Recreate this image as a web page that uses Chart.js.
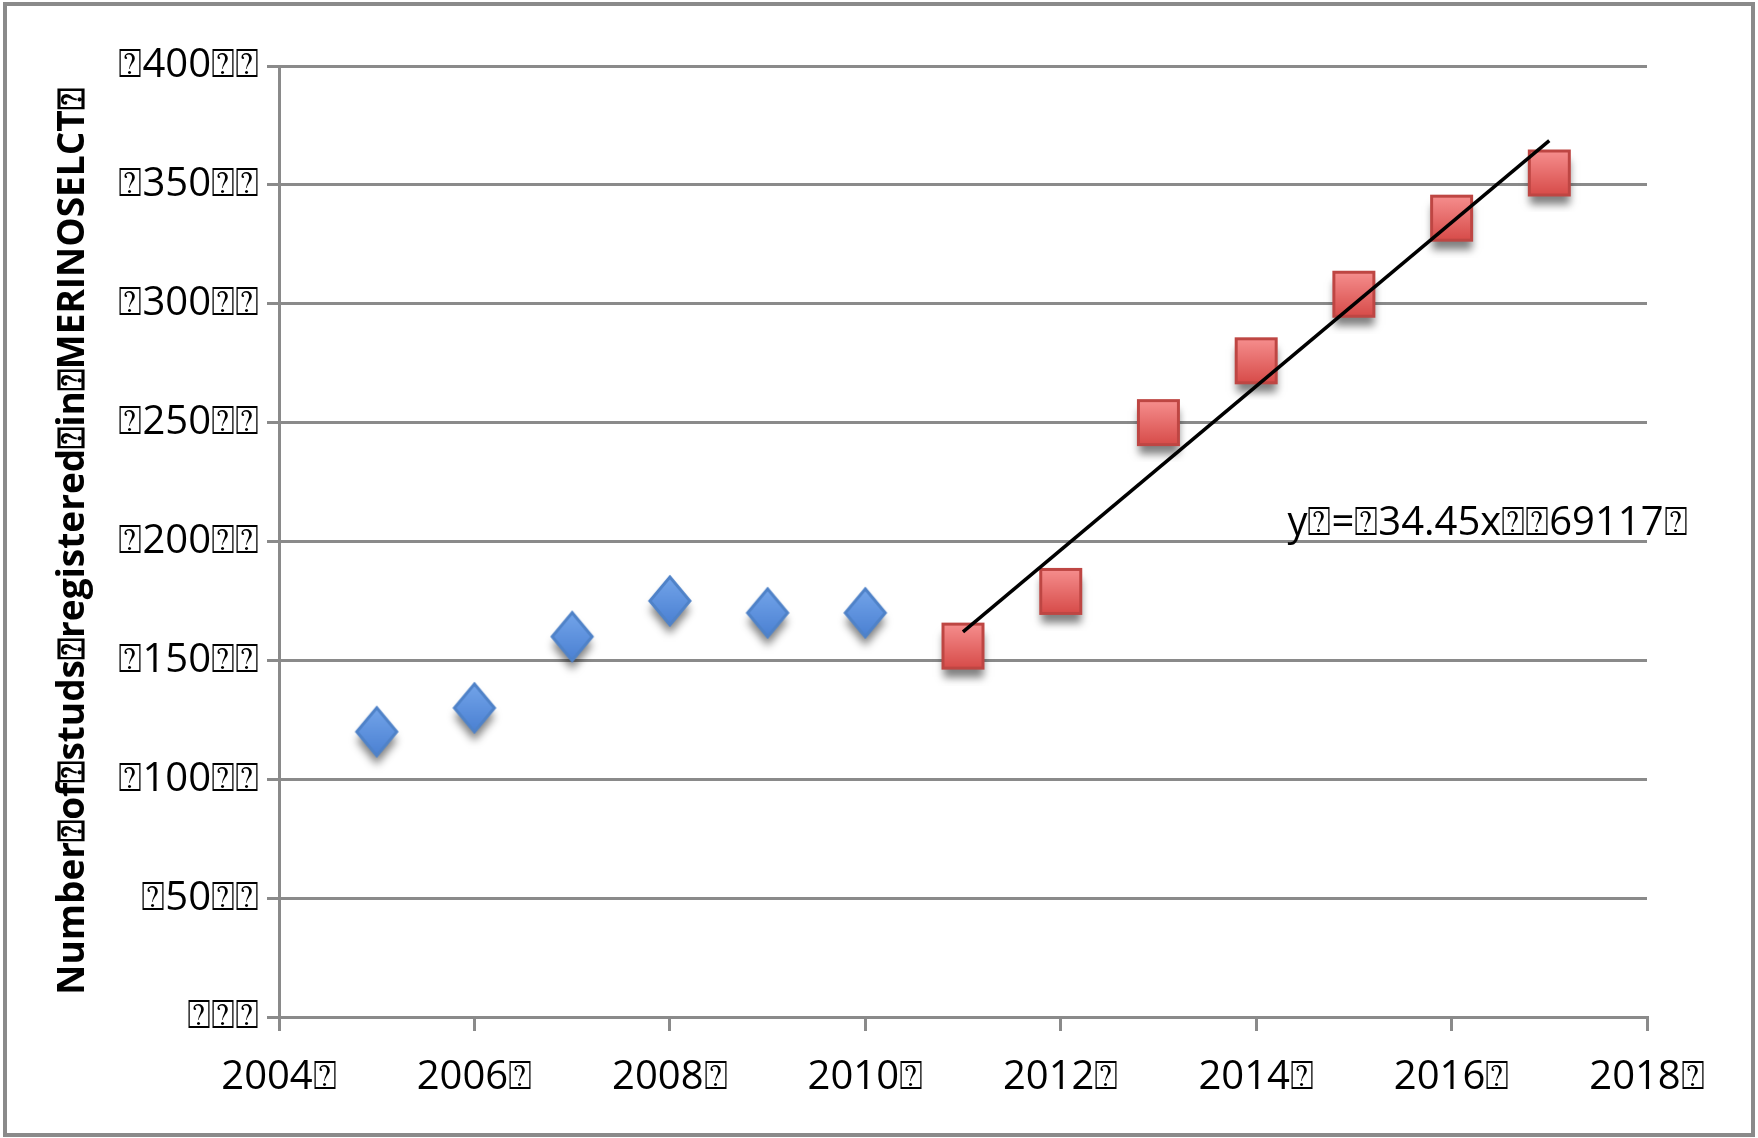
<!DOCTYPE html>
<html>
<head>
<meta charset="utf-8">
<script src="https://cdn.jsdelivr.net/npm/chart.js@4/dist/chart.umd.min.js"></script>
<style>
  html, body { margin: 0; padding: 0; background: #ffffff; }
  canvas { display: block; }
</style>
</head>
<body>
<canvas id="studs" width="1758" height="1138"></canvas>
<script>
// Studs registered per year, before and after 2011
const blueYears = [2005, 2006, 2007, 2008, 2009, 2010];
const blueStuds = [120, 130, 160, 175, 170, 170];
const redYears = [2011, 2012, 2013, 2014, 2015, 2016, 2017];
const redStuds = [156, 179, 250, 276, 304, 336, 355];

// Linear trend fitted to the 2011-2017 points
const trendYears = [2011, 2017];
const trendSlope = 34.45;
const trendIntercept = -69117;
const trendLabel = 'y\u2370=\u237034.45x\u2370\u237069117\u2370';

// Axis ticks and labels
const yTickValues = [0, 50, 100, 150, 200, 250, 300, 350, 400];
const yTickLabels = ['\u2370\u2370\u2370', '\u237050\u2370\u2370', '\u2370100\u2370\u2370', '\u2370150\u2370\u2370',
  '\u2370200\u2370\u2370', '\u2370250\u2370\u2370', '\u2370300\u2370\u2370', '\u2370350\u2370\u2370', '\u2370400\u2370\u2370'];
const xTickValues = [2004, 2006, 2008, 2010, 2012, 2014, 2016, 2018];
const xTickLabels = ['2004\u2370', '2006\u2370', '2008\u2370', '2010\u2370', '2012\u2370', '2014\u2370', '2016\u2370', '2018\u2370'];
const yAxisTitle = 'Number\u2370of\u2370studs\u2370registered\u2370in\u2370MERINOSELCT\u2370';

const GRID = '#8a8a8a';
const FONT = '"Open Sans", "DejaVu Sans", sans-serif';

// Glossy marker sprites with a soft drop shadow
function makeMarker(kind, w, h, topColor, bottomColor, edge) {
  const pad = 16;
  const c = document.createElement('canvas');
  c.width = w + pad * 2;
  c.height = h + pad * 2;
  const g = c.getContext('2d');
  const path = () => {
    g.beginPath();
    if (kind === 'diamond') {
      g.moveTo(pad + w / 2, pad + 1);
      g.lineTo(pad + w - 1, pad + h / 2);
      g.lineTo(pad + w / 2, pad + h - 1);
      g.lineTo(pad + 1, pad + h / 2);
      g.closePath();
    } else {
      g.rect(pad + 1.5, pad + 1.5, w - 3, h - 3);
    }
  };
  g.save();
  g.shadowColor = 'rgba(0,0,0,0.5)';
  g.shadowBlur = 8;
  g.shadowOffsetY = 9;
  path();
  g.fillStyle = '#808080';
  g.fill();
  g.restore();
  const grad = g.createLinearGradient(0, pad, 0, pad + h);
  grad.addColorStop(0, topColor);
  grad.addColorStop(1, bottomColor);
  path();
  g.fillStyle = grad;
  g.fill();
  g.lineWidth = 3;
  g.strokeStyle = edge;
  g.stroke();
  return c;
}

const diamond = makeMarker('diamond', 42, 50, '#74a5ea', '#4a80d2', '#4f82c8');
const square = makeMarker('square', 43, 47, '#f79090', '#d64a47', '#be4643');

const toPoints = (xs, ys) => xs.map((x, i) => ({ x, y: ys[i] }));
const trendPoints = trendYears.map(x => ({ x, y: trendSlope * x + trendIntercept }));

// Frame around the whole figure
const framePlugin = {
  id: 'frame',
  beforeDraw(chart) {
    const ctx = chart.ctx;
    ctx.save();
    ctx.fillStyle = '#ffffff';
    ctx.fillRect(0, 0, chart.width, chart.height);
    ctx.strokeStyle = GRID;
    ctx.lineWidth = 4;
    ctx.strokeRect(5, 4, chart.width - 10, chart.height - 7);
    ctx.restore();
  }
};

// Trend equation written beside the line
const equationPlugin = {
  id: 'equation',
  afterDatasetsDraw(chart) {
    const { ctx, scales } = chart;
    ctx.save();
    ctx.font = '40px ' + FONT;
    ctx.fillStyle = '#000000';
    ctx.textAlign = 'left';
    ctx.textBaseline = 'alphabetic';
    ctx.fillText(trendLabel, scales.x.getPixelForValue(2014.32), scales.y.getPixelForValue(200) - 7);
    ctx.restore();
  }
};

new Chart(document.getElementById('studs'), {
  type: 'scatter',
  data: {
    datasets: [
      {
        type: 'line',
        data: trendPoints,
        borderColor: '#000000',
        borderWidth: 3.5,
        pointRadius: 0,
        fill: false,
        order: 0
      },
      {
        data: toPoints(blueYears, blueStuds),
        pointStyle: diamond,
        order: 1
      },
      {
        data: toPoints(redYears, redStuds),
        pointStyle: square,
        order: 1
      }
    ]
  },
  options: {
    responsive: false,
    animation: false,
    events: [],
    layout: { padding: { left: 0, top: 66, right: 111, bottom: 0 } },
    plugins: {
      legend: { display: false },
      tooltip: { enabled: false }
    },
    scales: {
      x: {
        type: 'linear',
        min: 2004,
        max: 2018,
        afterFit(scale) { scale.height = 121; },
        afterBuildTicks(scale) { scale.ticks = xTickValues.map(v => ({ value: v })); },
        ticks: {
          color: '#000000',
          font: { family: FONT, size: 40 },
          padding: 23,
          maxRotation: 0,
          callback: v => xTickLabels[xTickValues.indexOf(v)]
        },
        grid: {
          drawOnChartArea: false,
          drawTicks: true,
          tickLength: 14,
          tickWidth: 3,
          tickColor: GRID,
          color: GRID,
          lineWidth: 3
        },
        border: { display: true, color: GRID, width: 3 }
      },
      y: {
        type: 'linear',
        min: 0,
        max: 400,
        afterFit(scale) { scale.width = 279; },
        afterBuildTicks(scale) { scale.ticks = yTickValues.map(v => ({ value: v })); },
        ticks: {
          color: '#000000',
          font: { family: FONT, size: 40 },
          padding: 8,
          callback: v => yTickLabels[yTickValues.indexOf(v)]
        },
        grid: {
          drawTicks: true,
          tickLength: 12,
          tickWidth: 3,
          tickColor: GRID,
          color: GRID,
          lineWidth: 3
        },
        border: { display: true, color: GRID, width: 3 },
        title: {
          display: true,
          text: yAxisTitle,
          color: '#000000',
          font: { family: FONT, size: 37, weight: 'bold' },
          padding: { top: 51, bottom: 0 }
        }
      }
    }
  },
  plugins: [framePlugin, equationPlugin]
});
</script>
</body>
</html>
